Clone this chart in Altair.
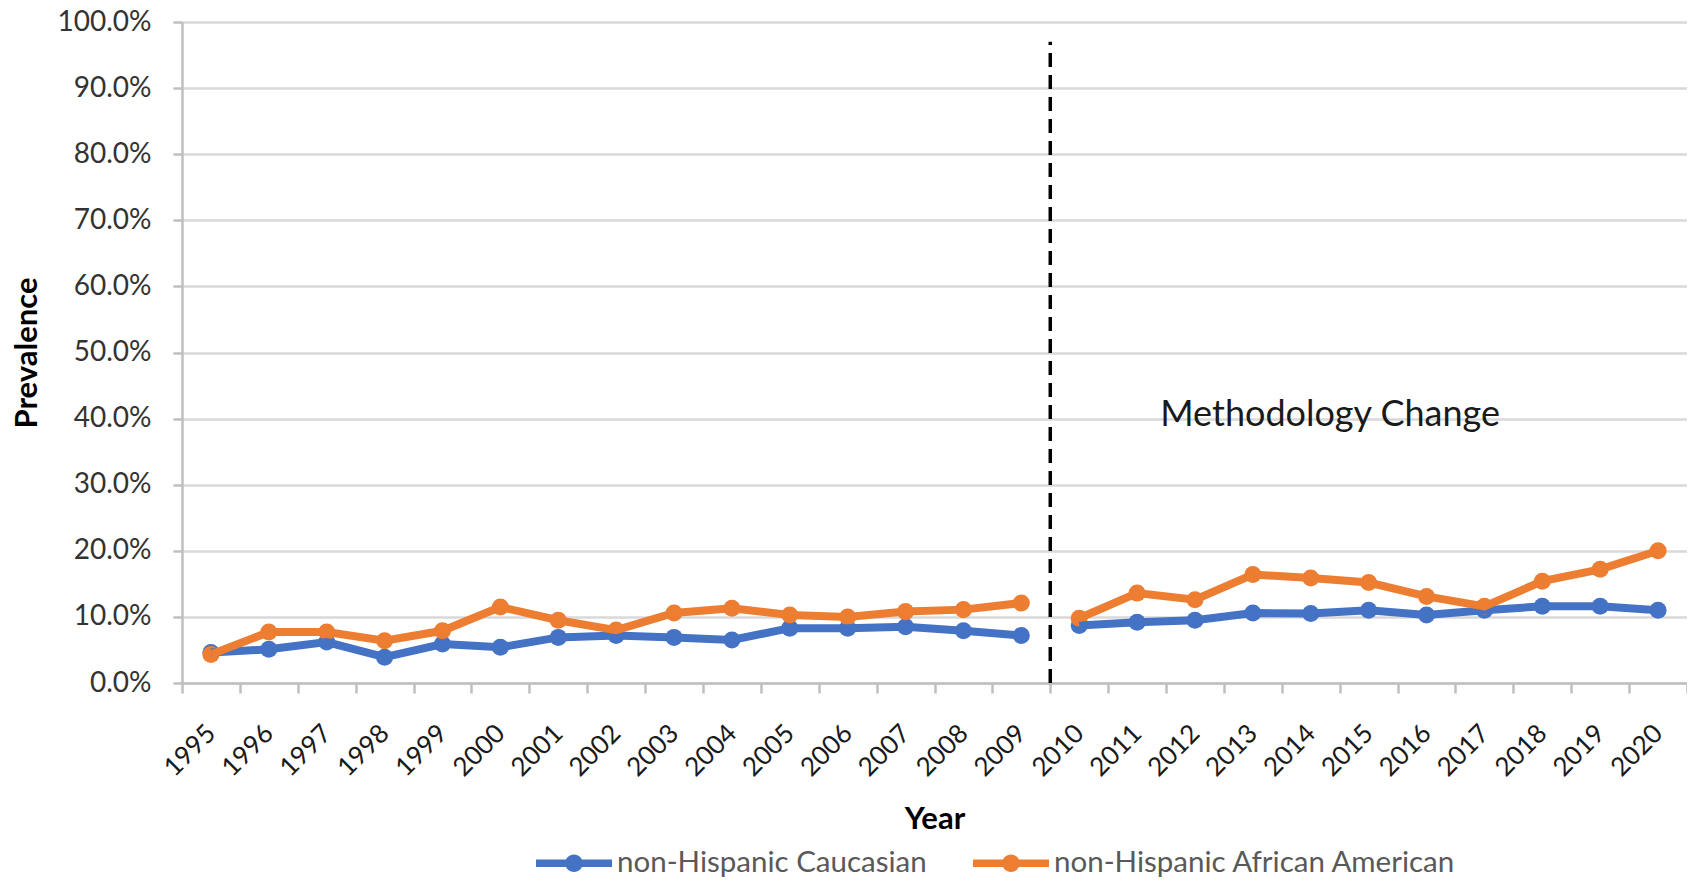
import altair as alt
import pandas as pd

years = [str(y) for y in range(1995, 2021)]
caucasian = [4.6, 5.1, 6.2, 3.9, 5.9, 5.4, 6.9, 7.2, 6.9, 6.5, 8.3, 8.3, 8.5, 7.9, 7.2,
             8.7, 9.2, 9.5, 10.6, 10.5, 11.0, 10.3, 11.0, 11.6, 11.6, 11.0]
african_american = [4.3, 7.7, 7.7, 6.4, 7.9, 11.5, 9.5, 8.0, 10.6, 11.3, 10.3, 10.0, 10.8, 11.1, 12.1,
                    9.8, 13.6, 12.6, 16.4, 15.9, 15.2, 13.1, 11.6, 15.4, 17.2, 20.0]
groups = ["non-Hispanic Caucasian", "non-Hispanic African American"]
colors = ["#4472C4", "#ED7D31"]
break_year = "2010"
annotation = "Methodology Change"

rows = []
for g, vals in zip(groups, [caucasian, african_american]):
    for y, v in zip(years, vals):
        rows.append({"year": y, "value": v / 100.0, "group": g,
                     "period": "before" if int(y) < int(break_year) else "after"})
df = pd.DataFrame(rows)

FONT = "Lato"
xscale = alt.Scale(type="band", domain=years, paddingInner=0, paddingOuter=0)
yscale = alt.Scale(domain=[0, 1])
color = alt.Color("group:N", scale=alt.Scale(domain=groups, range=colors), sort=groups,
                  legend=alt.Legend(
                      title=None, orient="none", legendX=354, legendY=803,
                      direction="horizontal", columns=2,
                      symbolType="M-1,-0.1L1,-0.1L1,0.1L-1,0.1Z M0.23,0 A0.23,0.23 0 1 1 -0.23,0 A0.23,0.23 0 1 1 0.23,0 Z",
                      symbolSize=5776, symbolStrokeWidth=0, labelFont=FONT, labelFontSize=29.5,
                      labelColor="#595959", labelOffset=5, columnPadding=46, labelLimit=600))

common = dict(labelFont=FONT, titleFont=FONT, titleFontWeight="bold", titleColor="#000000",
              domainColor="#BFBFBF", domainWidth=2.5, tickColor="#BFBFBF", tickWidth=2.5,
              gridColor="#D9D9D9", gridWidth=2.5)
xaxis = alt.Axis(title="Year", labelAngle=-45, labelAlign="right", labelBaseline="middle",
                 tickBand="extent", grid=False, labelFontSize=26, labelPadding=36, tickSize=10,
                 titleFontSize=31, titlePadding=24, labelColor="#1a1a1a", **common)
yaxis = alt.Axis(title="Prevalence", format=".1%", values=[i / 10 for i in range(11)],
                 labelFontSize=28, labelPadding=22, tickSize=9, titleFontSize=31, titlePadding=13,
                 labelColor="#333333", **common)

base = alt.Chart(df)
points = base.mark_point(filled=True, size=290, opacity=1).encode(
    x=alt.X("year:O", scale=xscale, axis=xaxis),
    y=alt.Y("value:Q", scale=yscale, axis=yaxis),
    color=color,
)
lines = base.mark_line(strokeWidth=8).encode(
    x=alt.X("year:O", scale=xscale),
    y=alt.Y("value:Q", scale=yscale),
    color=alt.Color("group:N", scale=alt.Scale(domain=groups, range=colors), legend=None),
    detail="period:N",
)

rule_df = pd.DataFrame({"year": [break_year], "y0": [0.0], "y1": [0.97]})
rule = alt.Chart(rule_df).mark_rule(color="black", strokeWidth=3.5, strokeDash=[14, 8]).encode(
    x=alt.X("year:O", scale=xscale, bandPosition=0),
    y=alt.Y("y0:Q", scale=yscale),
    y2="y1:Q",
)

text_df = pd.DataFrame({"year": ["2011"], "y": [0.405], "label": [annotation]})
text = alt.Chart(text_df).mark_text(align="left", baseline="middle", fontSize=36, font=FONT,
                                    color="#1a1a1a").encode(
    x=alt.X("year:O", scale=xscale, bandPosition=0.9),
    y=alt.Y("y:Q", scale=yscale),
    text="label:N",
)

chart = alt.layer(points, lines, rule, text).properties(
    width=1505, height=661,
    background="white",
    autosize=alt.AutoSizeParams(type="none"),
    padding={"left": 174, "top": 14, "right": 0, "bottom": 194},
).configure_view(stroke=None)

chart.save("out.html", embed_options={"renderer": "svg", "actions": False})
